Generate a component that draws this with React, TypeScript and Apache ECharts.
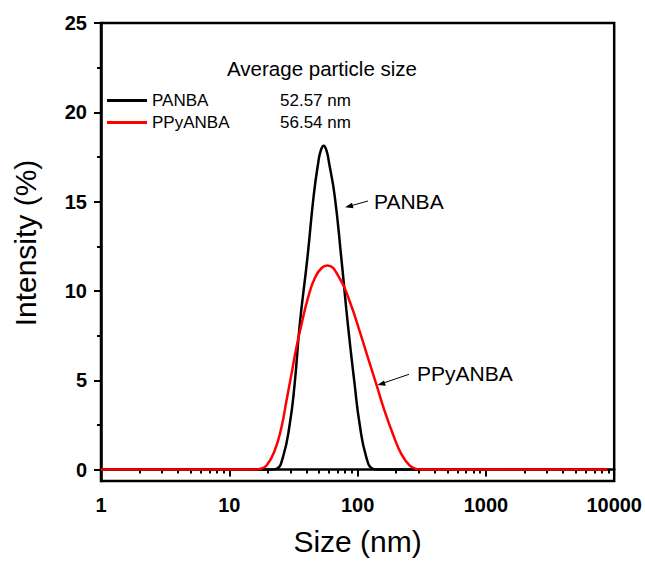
import React, { useEffect, useRef } from "react";
import * as echarts from "echarts";

const FONT = "'Liberation Sans', Arial, sans-serif";

// PANBA (black) size distribution
const panbaSize = [1, 10, 21, 23.3, 26.2, 29.6, 32.3, 35.4, 40.6, 45.5, 49.4, 51.5, 54.4, 57.4, 59.8, 66.2, 74.7, 84.0, 94.8, 103.7, 116.8, 131.5, 145, 1000, 8830];
const panbaIntensity = [0, 0, 0, 0.04, 0.7, 2.55, 4.78, 8.11, 11.83, 15.35, 17.2, 17.83, 18.13, 17.83, 17.2, 15.35, 11.83, 8.11, 4.78, 2.55, 0.7, 0.04, 0, 0, 0];

// PPyANBA (red) size distribution
const ppySize = [1, 10, 15.5, 17.3, 19.5, 22.6, 25.5, 27.9, 30.5, 33.3, 36.5, 41.0, 46.3, 52.2, 58.1, 72.4, 86.7, 103.7, 120.3, 139.8, 162.3, 188.3, 218.9, 254, 286, 320, 1000, 8830];
const ppyIntensity = [0, 0, 0, 0.04, 0.23, 1.07, 2.37, 3.85, 5.33, 6.82, 8.11, 9.6, 10.71, 11.27, 11.42, 10.71, 9.42, 7.75, 6.26, 4.78, 3.29, 1.99, 0.88, 0.23, 0.04, 0, 0, 0];

const seriesNames = ["PANBA", "PPyANBA"];
const averageSizes = ["52.57 nm", "56.54 nm"];
const yMajorTicks = [0, 5, 10, 15, 20, 25];
const yMinorTicks = [2.5, 7.5, 12.5, 17.5, 22.5];
const xMinorTicks = [2, 3, 4, 5, 6, 7, 8, 9, 20, 30, 40, 50, 60, 70, 80, 90, 200, 300, 400, 500, 600, 700, 800, 900, 2000, 3000, 4000, 5000, 6000, 7000, 8000, 9000];

const zip = (xs: number[], ys: number[]) => xs.map((x, i) => [x, ys[i]]);

export default function App() {
  const ref = useRef<HTMLDivElement>(null);
  useEffect(() => {
    document.body.style.margin = "0";
    if (!ref.current) return;
    const chart = echarts.init(ref.current, null, { renderer: "svg" });
    const axisLine = { show: true, lineStyle: { color: "#000", width: 2.5 } };
    const yMin = -0.64;
    chart.setOption({
      animation: false,
      textStyle: { fontFamily: FONT },
      grid: {
        left: 101, right: 30, top: 23, bottom: 77,
        show: true, borderColor: "#000", borderWidth: 2.5, backgroundColor: "transparent",
      },
      legend: {
        orient: "vertical", left: 107, top: 92, padding: 0, itemGap: 5,
        itemWidth: 40, itemHeight: 3, icon: "rect",
        textStyle: { fontSize: 17, color: "#000", fontFamily: FONT },
        data: seriesNames,
      },
      xAxis: [
        {
          type: "log", logBase: 10, min: 1, max: 10000, position: "bottom",
          axisLine,
          axisTick: { show: true, inside: false, length: 7, lineStyle: { color: "#000", width: 2 } },
          axisLabel: {
            color: "#000", fontSize: 20, fontWeight: "bold", margin: 14, fontFamily: FONT,
            formatter: (v: number) => String(Math.round(v)),
          },
          splitLine: { show: false },
          name: "Size (nm)", nameLocation: "middle", nameGap: 45,
          nameTextStyle: { fontSize: 30, color: "#000", fontFamily: FONT },
        },
        {
          type: "log", logBase: 10, min: 1, max: 10000, position: "bottom",
          axisLine: { show: false },
          axisTick: { show: true, inside: false, length: 4, customValues: xMinorTicks, lineStyle: { color: "#000", width: 2 } },
          axisLabel: { show: false },
          splitLine: { show: false },
        },
      ],
      yAxis: [
        {
          type: "value", min: yMin, max: 25, position: "left",
          axisLine,
          axisTick: { show: true, inside: false, length: 7, customValues: yMajorTicks, lineStyle: { color: "#000", width: 2 } },
          axisLabel: { color: "#000", fontSize: 20, fontWeight: "bold", margin: 14, customValues: yMajorTicks, fontFamily: FONT },
          splitLine: { show: false },
          name: "Intensity (%)", nameLocation: "middle", nameGap: 61,
          nameTextStyle: { fontSize: 30, color: "#000", fontFamily: FONT, padding: [0, 0, 0, 18] },
        },
        {
          type: "value", min: yMin, max: 25, position: "left",
          axisLine: { show: false },
          axisTick: { show: true, inside: false, length: 4, customValues: yMinorTicks, lineStyle: { color: "#000", width: 2 } },
          axisLabel: { show: false },
          splitLine: { show: false },
        },
      ],
      series: [
        {
          name: seriesNames[0], type: "line", xAxisIndex: 0, yAxisIndex: 0,
          data: zip(panbaSize, panbaIntensity), showSymbol: false, smooth: 0.5,
          lineStyle: { color: "#000", width: 2.5 }, itemStyle: { color: "#000" },
        },
        {
          name: seriesNames[1], type: "line", xAxisIndex: 0, yAxisIndex: 0,
          data: zip(ppySize, ppyIntensity), showSymbol: false, smooth: 0.5,
          lineStyle: { color: "#ff0000", width: 2.5 }, itemStyle: { color: "#ff0000" },
        },
      ],
      graphic: [
        { type: "text", x: 322, y: 68, style: { text: "Average particle size", font: `20.5px ${FONT}`, fill: "#000", align: "center", verticalAlign: "middle" } },
        { type: "text", x: 280, y: 100, style: { text: averageSizes[0], font: `17px ${FONT}`, fill: "#000", align: "left", verticalAlign: "middle" } },
        { type: "text", x: 280, y: 122, style: { text: averageSizes[1], font: `17px ${FONT}`, fill: "#000", align: "left", verticalAlign: "middle" } },
        { type: "text", x: 374, y: 201, style: { text: seriesNames[0], font: `21px ${FONT}`, fill: "#000", align: "left", verticalAlign: "middle" } },
        { type: "text", x: 417, y: 373, style: { text: seriesNames[1], font: `21px ${FONT}`, fill: "#000", align: "left", verticalAlign: "middle" } },
        { type: "line", shape: { x1: 368, y1: 201, x2: 350, y2: 206 }, style: { stroke: "#000", lineWidth: 1 } },
        { type: "polygon", shape: { points: [[345, 207.3], [352, 202.8], [353.5, 208.3]] }, style: { fill: "#000" } },
        { type: "line", shape: { x1: 409, y1: 374.3, x2: 382, y2: 383.5 }, style: { stroke: "#000", lineWidth: 1 } },
        { type: "polygon", shape: { points: [[377.3, 385], [384, 380.4], [385.8, 385.8]] }, style: { fill: "#000" } },
      ],
    });
    return () => chart.dispose();
  }, []);
  return <div ref={ref} style={{ width: 645, height: 561 }} />;
}
